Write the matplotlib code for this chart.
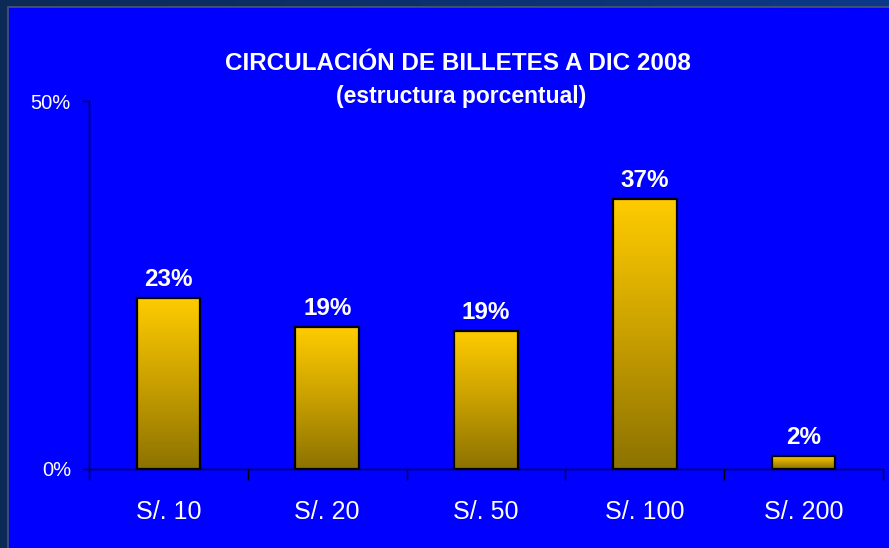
import numpy as np
import matplotlib
matplotlib.use("Agg")
import matplotlib.pyplot as plt
from matplotlib.patches import Rectangle
from matplotlib.colors import LinearSegmentedColormap

categories = ["S/. 10", "S/. 20", "S/. 50", "S/. 100", "S/. 200"]
values = [23.3, 19.3, 18.8, 36.7, 1.8]
labels = ["23%", "19%", "19%", "37%", "2%"]
yticks = [0, 50]
ytick_labels = ["0%", "50%"]
title = "CIRCULACIÓN DE BILLETES A DIC 2008"
subtitle = "(estructura porcentual)"

plt.rcParams['font.family'] = ['Liberation Sans', 'DejaVu Sans']

W, H = 889, 548
fig = plt.figure(figsize=(W / 100, H / 100), dpi=100)
fig.patch.set_facecolor('#0B2A55')

# background frame with top gradient
bg = fig.add_axes([0, 0, 1, 1])
bg.set_xlim(0, W)
bg.set_ylim(0, H)
bg.axis('off')
topgrad = LinearSegmentedColormap.from_list('tg', ['#0B2A55', '#0B3A8A'])
bg.imshow(np.linspace(0, 1, 256)[None, :], cmap=topgrad, aspect='auto',
          extent=[0, W, H - 7, H], zorder=0)
bg.add_patch(Rectangle((8, -2), W - 6, H - 5, facecolor='#0000FF',
                       edgecolor='#4A5670', lw=1.2, zorder=1))

ax = fig.add_axes([89 / W, 1 - 469 / H, (883 - 89) / W, (469 - 101.3) / H])
ax.set_facecolor('none')
x = np.arange(len(categories))
bars = ax.bar(x, values, width=0.4, facecolor='none', edgecolor='black',
              linewidth=1.6, zorder=3)

cmap = LinearSegmentedColormap.from_list('gold', ['#8C7200', '#C9A000', '#FFCC00'])
grad = np.linspace(0, 1, 256)[:, None]
for b in bars:
    x0, y0 = b.get_x(), b.get_y()
    w, h = b.get_width(), b.get_height()
    im = ax.imshow(grad, cmap=cmap, origin='lower', aspect='auto',
                   extent=[x0, x0 + w, y0, y0 + h], zorder=2)
    im.set_clip_path(b)

for xi, v, lab in zip(x, values, labels):
    ax.annotate(lab, (xi, v), xytext=(0, 5), textcoords='offset points',
                ha='center', va='bottom', color='white', fontsize=17.5,
                fontweight='bold')

ax.set_xlim(-0.5, len(categories) - 0.5)
ax.set_ylim(0, 50)
ax.set_yticks(yticks)
ax.set_yticklabels(ytick_labels)
ax.set_xticks(x)
ax.set_xticklabels(categories)
ax.set_xticks(np.arange(len(categories) + 1) - 0.5, minor=True)
ax.tick_params(axis='x', which='major', length=0, pad=22, labelsize=18,
               labelcolor='white')
ax.tick_params(axis='x', which='minor', length=8, width=1, color='black',
               direction='out')
ax.tick_params(axis='y', which='major', length=5, width=1, color='black',
               direction='out', pad=8, labelsize=14.5, labelcolor='white')
for s in ['top', 'right']:
    ax.spines[s].set_visible(False)
for s in ['left', 'bottom']:
    ax.spines[s].set_color('black')
    ax.spines[s].set_linewidth(1)

fig.text(458 / W, 1 - 63 / H, title, ha='center', va='center', color='white',
         fontsize=17.5, fontweight='bold')
fig.text(461 / W, 1 - 97 / H, subtitle, ha='center', va='center', color='white',
         fontsize=16.5, fontweight='bold')

fig.savefig('out.png', dpi=100, facecolor=fig.get_facecolor())
